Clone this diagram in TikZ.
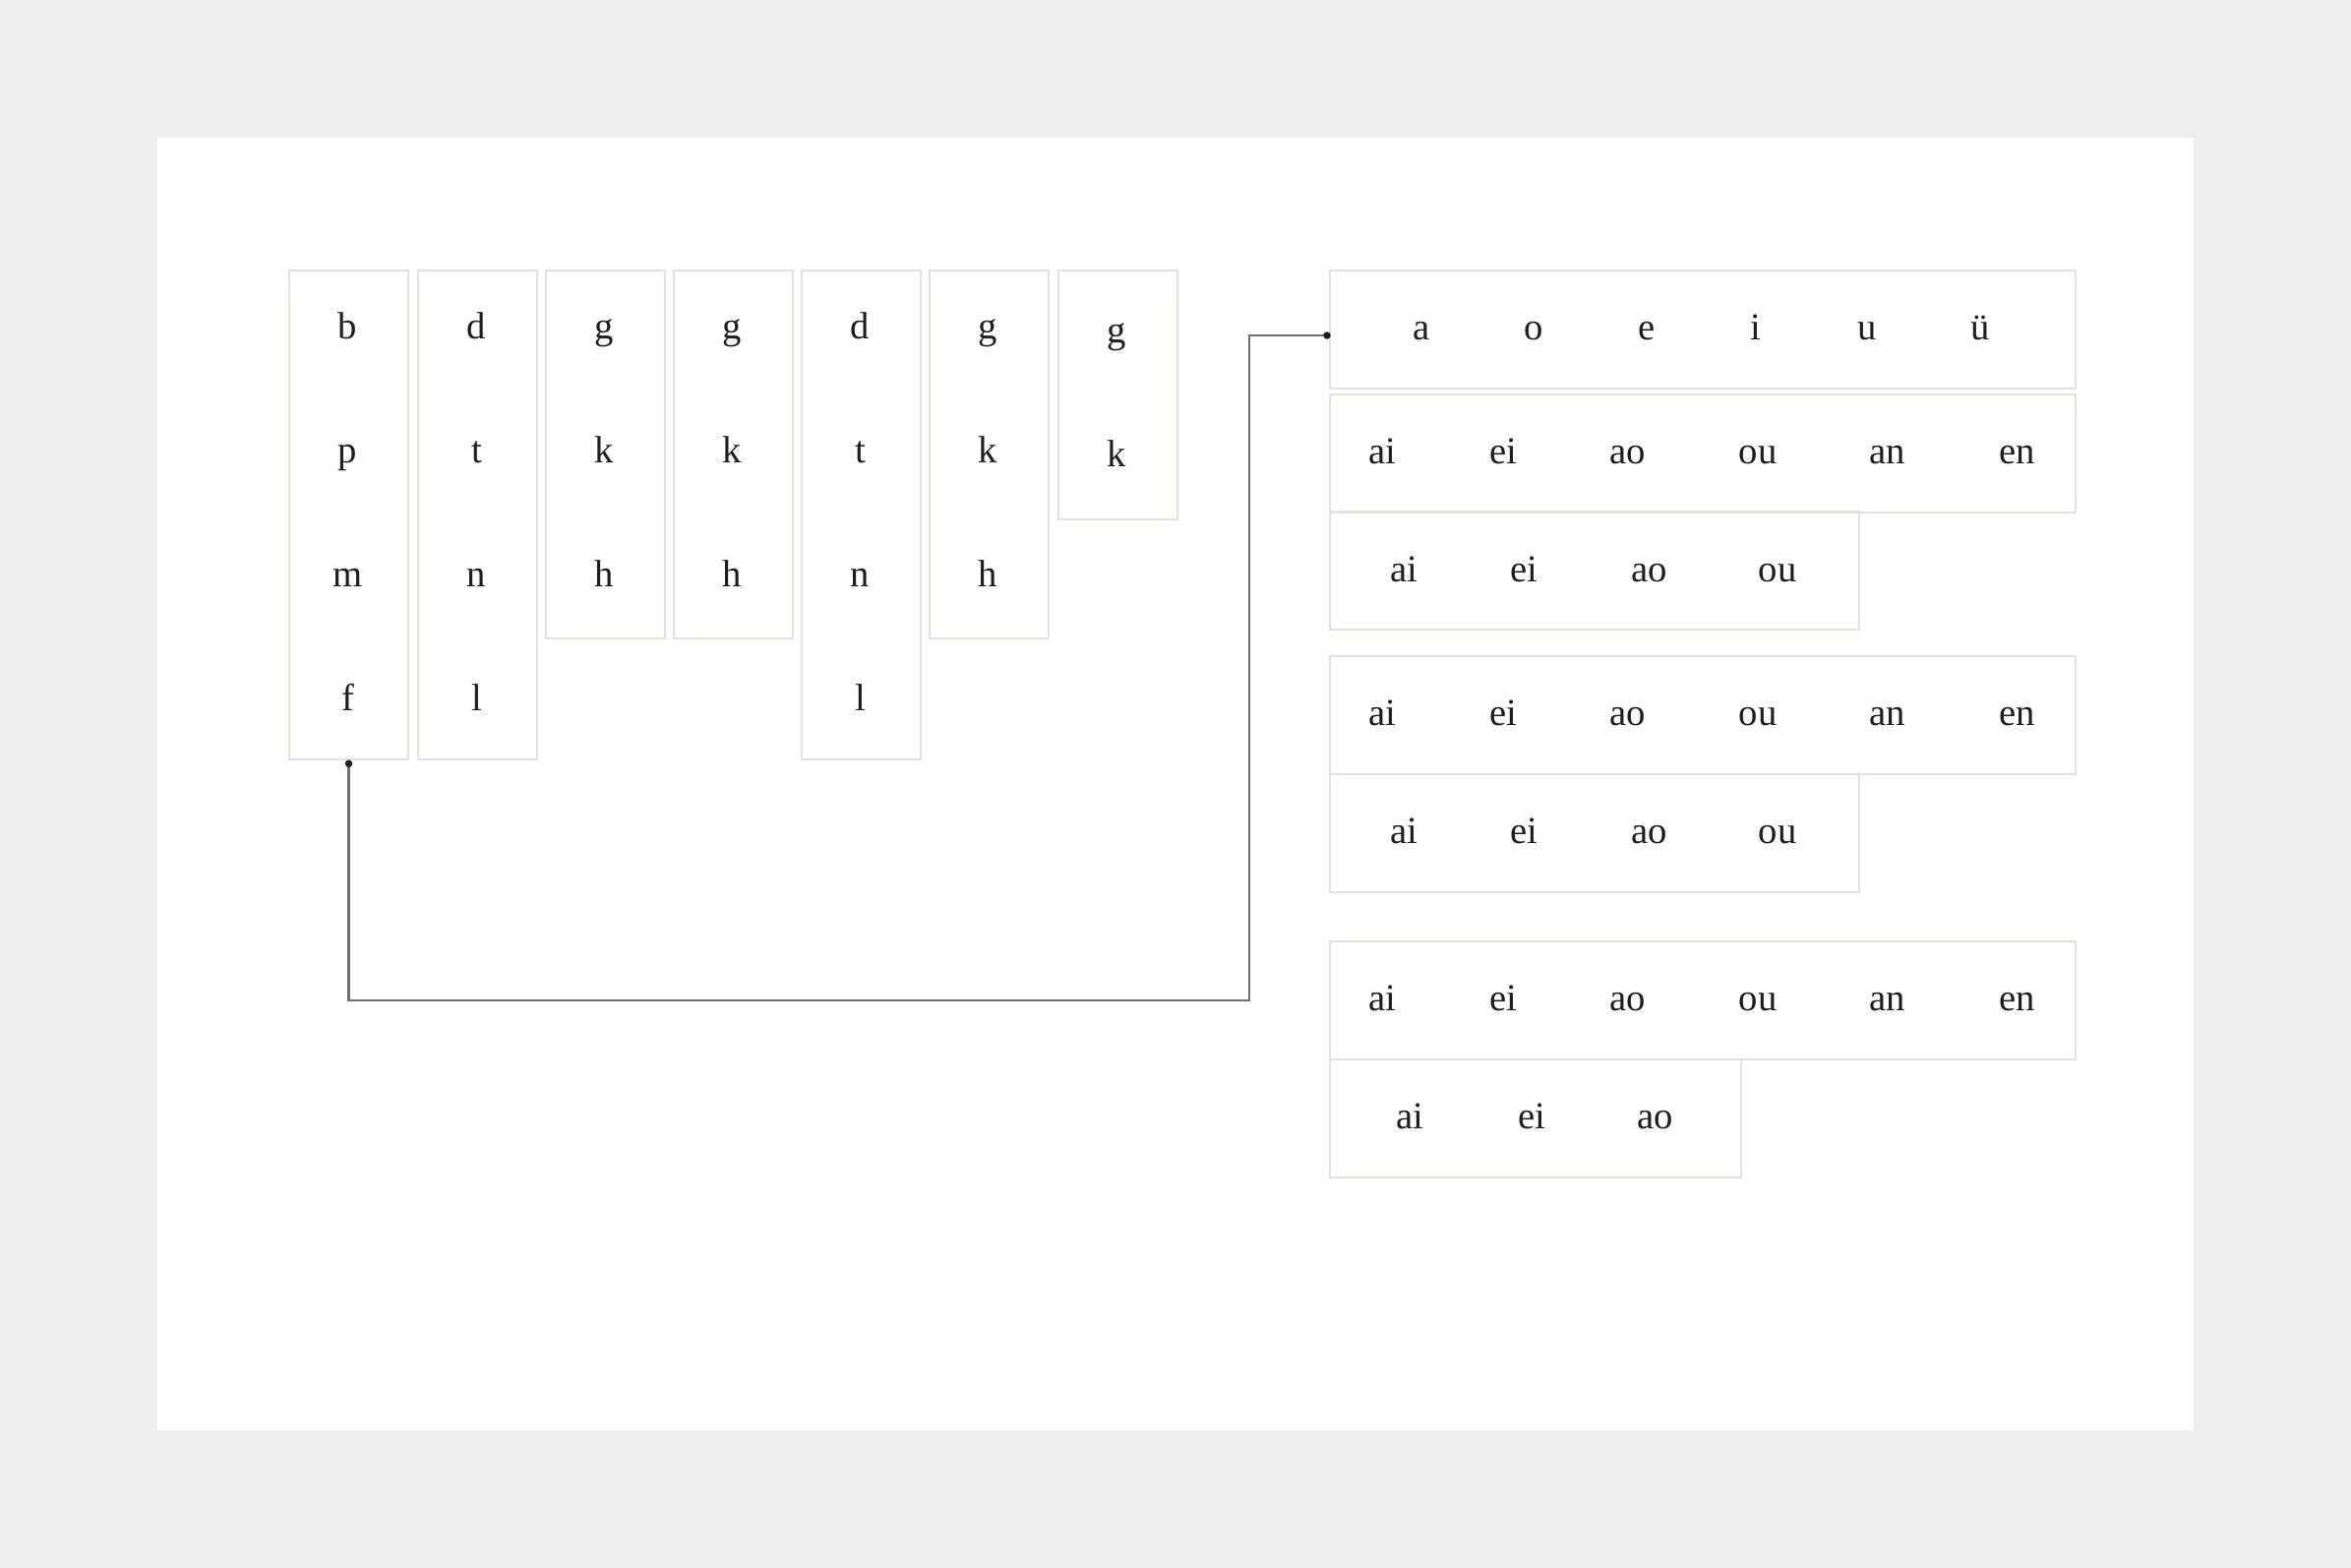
\documentclass[tikz,border=0pt]{standalone}
\usepackage{fontspec}
\setmainfont{Liberation Serif}

\definecolor{pagegray}{HTML}{EEEEEE}
\definecolor{boxline}{HTML}{E2E2D8}
\definecolor{wiregray}{HTML}{6E6E6E}
\definecolor{ink}{HTML}{1E1E1E}

\tikzset{
  col/.style={draw=boxline, line width=0.2mm, anchor=north west,
    minimum width=1.21cm, inner sep=0pt},
  bar/.style={draw=boxline, line width=0.2mm, anchor=north west,
    minimum height=1.2cm, inner sep=0pt},
  sym/.style={anchor=base, text=ink, inner sep=0pt,
    font=\fontsize{11}{13}\selectfont},
  wire/.style={draw=wiregray, line width=0.22mm},
  joint/.style={circle, fill=ink, inner sep=0pt, minimum size=0.75mm}
}

\begin{document}
\begin{tikzpicture}[x=0.01cm, y=-0.01cm]
    \fill [pagegray] (0, 0) rectangle (2390, 1594);
    \fill [white] (160, 140) rectangle (2230, 1454);

    % initials
    \foreach \k/\x/\h/\dy/\letters in {
        1/293/4.97/0/{b,p,m,f}, 2/424/4.97/0/{d,t,n,l},
        3/554/3.74/0/{g,k,h}, 4/684/3.74/0/{g,k,h},
        5/814/4.97/0/{d,t,n,l}, 6/944/3.74/0/{g,k,h},
        7/1075/2.53/4/{g,k}} {
      \node [col, minimum height=\h cm] (c\k) at (\x, 274) {};
      \foreach \t [count=\i] in \letters
        \node [sym] (c\k-\i) at ({\x+60.5}, {344+\dy+126*(\i-1)}) {\t};
    }

    % finals
    \node [bar, minimum width=7.58cm] (ra) at (1351, 274) {};
    \node [bar, minimum width=7.58cm] (rb) at (1351, 400) {};
    \node [bar, minimum width=5.38cm] (rc) at (1351, 519) {};
    \node [bar, minimum width=7.58cm] (rd) at (1351, 666) {};
    \node [bar, minimum width=5.38cm] (re) at (1351, 786) {};
    \node [bar, minimum width=7.58cm] (rf) at (1351, 956) {};
    \node [bar, minimum width=4.18cm] (rg) at (1351, 1076) {};

    \foreach \x/\t [count=\i] in {1445/a, 1559/o, 1674/e, 1785/i, 1898/u, 2013/ü}
      \node [sym] (ra-\i) at (\x, 345) {\t};
    \foreach \r/\y in {rb/471, rd/737, rf/1027}
      \foreach \x/\t [count=\i] in {1405/ai, 1528/ei, 1655/ao, 1787/ou, 1919/an, 2051/en}
        \node [sym] (\r-\i) at (\x, \y) {\t};
    \foreach \r/\y in {rc/591, re/857}
      \foreach \x/\t [count=\i] in {1427/ai, 1549/ei, 1677/ao, 1807/ou}
        \node [sym] (\r-\i) at (\x, \y) {\t};
    \foreach \x/\t [count=\i] in {1433/ai, 1557/ei, 1683/ao}
      \node [sym] (rg-\i) at (\x, 1147) {\t};

    \coordinate (pb) at ([yshift=-0.3mm]c1.south);
    \coordinate (pa) at (1349, 341);
    \coordinate (bend) at (1270, 1017);
    \draw [wire] (pb) |- (bend) |- (pa);
    \node [joint] (jb) at (pb) {};
    \node [joint] (ja) at (pa) {};
\end{tikzpicture}
\end{document}
